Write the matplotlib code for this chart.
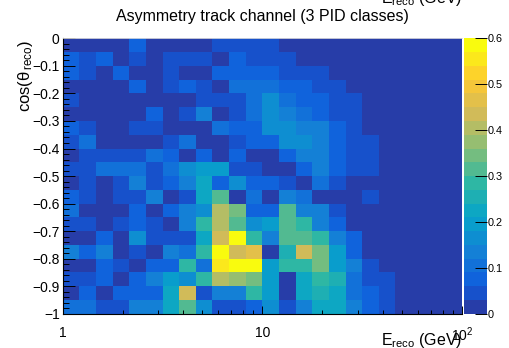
import numpy as np
import matplotlib
matplotlib.use("Agg")
import matplotlib.pyplot as plt
from matplotlib.colors import ListedColormap, BoundaryNorm, LinearSegmentedColormap

plt.rcParams['font.family'] = ['Liberation Sans', 'DejaVu Sans']
plt.rcParams['mathtext.fontset'] = 'custom'
plt.rcParams['mathtext.rm'] = 'Liberation Sans'
plt.rcParams['mathtext.it'] = 'Liberation Sans:italic'
plt.rcParams['mathtext.bf'] = 'Liberation Sans:bold'

# ---------------- data ----------------
title = "Asymmetry track channel (3 PID classes)"
x_title = r"E$_{\rm reco}$ (GeV)"
y_title = r"cos(θ$_{\,\rm reco}$)"

n_energy_bins = 24          # log-spaced, 1 .. 100 GeV
energy_range = (1.0, 100.0)
n_cos_bins = 20             # -1 .. 0
cos_range = (-1.0, 0.0)

x_tick_values = [1, 10, 100]
x_tick_labels = ["1", "10", r"10$^{2}$"]
y_tick_values = [0, -0.1, -0.2, -0.3, -0.4, -0.5, -0.6, -0.7, -0.8, -0.9, -1]
y_tick_labels = ["0", "\u22120.1", "\u22120.2", "\u22120.3", "\u22120.4", "\u22120.5",
                 "\u22120.6", "\u22120.7", "\u22120.8", "\u22120.9", "\u22121"]
z_min, z_max, n_contours = 0.0, 0.6, 20
cbar_ticks = [0, 0.1, 0.2, 0.3, 0.4, 0.5, 0.6]
cbar_labels = ["0", "0.1", "0.2", "0.3", "0.4", "0.5", "0.6"]

# asymmetry values; first row = top (cos in [-0.05, 0]), last row = bottom
asym = [
 [0,.00,.00,.00,.07,.00,.00,.00,.00,.04,.04,.04,.04,.00,.00,.00,.00,.00,0,0,0,0,0,0],
 [.07,.04,.07,.00,.04,.00,.04,.04,.04,.00,.07,.04,.04,.04,.00,.00,.00,.00,0,0,0,0,0,0],
 [.07,.04,.00,.07,.00,.00,.04,.00,.00,.07,.07,.07,.07,.04,.04,.04,.00,.00,0,0,0,0,0,0],
 [.00,.00,.00,.00,.07,.00,.04,.07,.04,.00,.10,.10,.10,.07,.07,.04,.04,.00,0,0,0,0,0,0],
 [.04,.00,.00,.00,.00,.00,.00,.00,.04,.04,.04,.10,.16,.10,.07,.07,.04,.04,0,0,0,0,0,0],
 [.00,.00,.00,.00,.00,.07,.00,.04,.13,.00,.04,.10,.16,.13,.10,.07,.04,.04,0,0,0,0,0,0],
 [.07,.04,.00,.00,.04,.04,.00,.00,.00,.10,.07,.07,.16,.16,.13,.13,.07,.04,0,0,0,0,0,0],
 [.04,.10,.00,.00,.00,.00,.04,.10,.00,.00,.04,.07,.07,.16,.16,.13,.07,.04,.04,0,0,0,0,0],
 [.00,.04,.04,.04,.04,.10,.07,.00,.07,.00,.07,.00,.00,.07,.13,.13,.07,.04,.04,0,0,0,0,0],
 [.04,.04,.10,.10,.10,.04,.10,.16,.19,.19,.04,.04,.00,.00,.07,.13,.07,.04,.04,0,0,0,0,0],
 [.00,.04,.00,.04,.13,.04,.07,.13,.22,.07,.16,.07,.07,.04,.00,.10,.04,.00,0,0,0,0,0,0],
 [.07,.04,.00,.04,.04,.13,.00,.04,.22,.31,.00,.10,.00,.13,.10,.00,.00,.00,.04,0,0,0,0,0],
 [.10,.00,.00,.00,.07,.00,.07,.13,.16,.40,.34,.07,.07,.31,.13,.13,.04,.00,0,0,0,0,0,0],
 [.04,.04,.00,.04,.07,.04,.00,.13,.28,.40,.31,.16,.19,.31,.28,.13,.07,.00,0,0,0,0,0,0],
 [.00,.00,.07,.00,.16,.04,.04,.04,.22,.43,.58,.28,.13,.31,.31,.28,.13,.07,0,0,0,0,0,0],
 [.13,.07,.13,.00,.04,.00,.13,.10,.28,.58,.43,.46,.00,.25,.43,.34,.19,.07,0,0,0,0,0,0],
 [.00,.00,.07,.04,.00,.07,.07,.28,.10,.55,.58,.58,.19,.28,.28,.34,.19,.13,.04,0,0,0,0,0],
 [.04,.04,.07,.00,.07,.13,.19,.16,.28,.40,.37,.34,.19,.00,.22,.28,.25,.10,.04,.04,0,0,0,0],
 [.00,.07,.00,.07,.07,.07,.22,.43,.04,.13,.13,.28,.19,.00,.22,.25,.22,.10,.07,.04,0,0,0,0],
 [.10,.10,.04,.04,.13,.13,.22,.31,.16,.04,.04,.07,.16,.04,.13,.22,.22,.13,.07,.04,0,0,0,0],
]

# ROOT kBird palette stops
bird_stops = [0.0, 0.125, 0.25, 0.375, 0.5, 0.625, 0.75, 0.875, 1.0]
bird_r = [0.2082, 0.0592, 0.0780, 0.0232, 0.1802, 0.5301, 0.8186, 0.9956, 0.9764]
bird_g = [0.1664, 0.3599, 0.5041, 0.6419, 0.7178, 0.7492, 0.7328, 0.7862, 0.9832]
bird_b = [0.5293, 0.8684, 0.8385, 0.7914, 0.6425, 0.4662, 0.3499, 0.1968, 0.0539]

# ---------------- style ----------------
base = LinearSegmentedColormap.from_list(
    "bird", list(zip(bird_stops, zip(bird_r, bird_g, bird_b))), N=255)
idx = [int((i + 0.99) * 255 / n_contours) for i in range(n_contours)]
level_colors = [base(min(j, 254) / 254.0) for j in idx]
cmap = ListedColormap(level_colors)
bounds = np.linspace(z_min, z_max, n_contours + 1)
norm = BoundaryNorm(bounds, cmap.N)

W, H = 510, 348
fig = plt.figure(figsize=(W / 100, H / 100), dpi=100)
px = lambda v: v * 0.72  # pixels -> points

ax_l, ax_r, ax_t, ax_b = 62.7, 462.0, 38.3, 313.8
ax = fig.add_axes([ax_l / W, 1 - ax_b / H, (ax_r - ax_l) / W, (ax_b - ax_t) / H])

xedges = np.logspace(np.log10(energy_range[0]), np.log10(energy_range[1]), n_energy_bins + 1)
yedges = np.linspace(cos_range[0], cos_range[1], n_cos_bins + 1)
Z = np.array(asym)[::-1]
mesh = ax.pcolormesh(xedges, yedges, Z, cmap=cmap, norm=norm, shading="flat",
                     edgecolors="none", antialiased=False)

ax.set_xscale("log")
ax.set_xlim(*energy_range)
ax.set_ylim(*cos_range)
ax.set_xticks(x_tick_values)
ax.set_xticklabels(x_tick_labels)
minor_x = [m * d for d in (1, 10) for m in range(2, 10)]
ax.set_xticks(minor_x, minor=True)
ax.set_xticklabels([], minor=True)
ax.set_yticks(y_tick_values)
ax.set_yticklabels(y_tick_labels)
ax.set_yticks(np.linspace(-1, 0, 51), minor=True)

ax.tick_params(axis="x", which="major", direction="in", length=px(8.3), width=0.7,
               labelsize=10, pad=px(12))
ax.tick_params(axis="x", which="minor", direction="in", length=px(4.1), width=0.7)
ax.tick_params(axis="y", which="major", direction="in", length=px(12), width=0.7,
               labelsize=10, pad=px(3))
ax.tick_params(axis="y", which="minor", direction="in", length=px(6), width=0.7)
ax.tick_params(top=False, right=False, which="both")

for s in ("left", "bottom"):
    ax.spines[s].set_color("black")
    ax.spines[s].set_linewidth(0.8)
ax.spines["top"].set_color("#dddddd")
ax.spines["top"].set_linewidth(0.6)
ax.spines["right"].set_visible(False)

# colorbar
cax = fig.add_axes([464 / W, 1 - ax_b / H, 23 / W, (ax_b - ax_t) / H])
cb = fig.colorbar(mesh, cax=cax, boundaries=bounds, ticks=cbar_ticks)
cb.ax.set_yticklabels(cbar_labels)
cb.outline.set_visible(False)
cb.ax.tick_params(axis="y", direction="in", length=px(12), width=0.7, labelsize=7.8, pad=px(1))
cb.ax.minorticks_off()

# titles
fig.text((ax_l + ax_r) / 2 / W, 1 - 20.7 / H, title, ha="center", va="baseline", fontsize=11.5)
fig.text(ax_r / W, 3.5 / H, x_title, ha="right", va="baseline", fontsize=11.5)
fig.text(ax_r / W, 1 - 3.3 / H, x_title, ha="right", va="baseline", fontsize=11.5)
fig.text(25.5 / W, 1 - 40 / H, y_title, ha="center", va="top", rotation=90, fontsize=12)

fig.savefig("out.png", dpi=100)
